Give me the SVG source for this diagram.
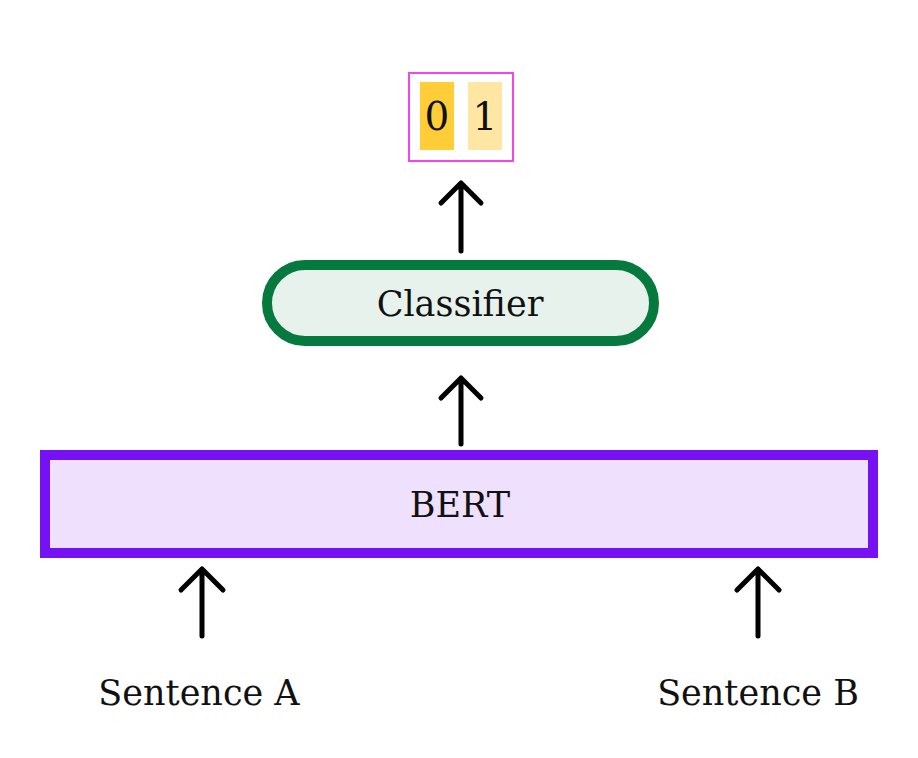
<svg xmlns="http://www.w3.org/2000/svg" width="918" height="758" viewBox="0 0 918 758">
<style>
text{font-family:"DejaVu Serif","Liberation Serif",serif;font-size:35px;fill:#111;text-anchor:middle}
.dig{font-size:39px}
.arr{fill:none;stroke:#000;stroke-width:5;stroke-linecap:round;stroke-linejoin:round}
</style>
<rect width="918" height="758" fill="#fff"/>
<g id="output">
<rect x="409" y="73" width="104" height="88" fill="#fff" stroke="#f544ee" stroke-width="2"/>
<rect x="420" y="82" width="34" height="68" fill="#ffcd38"/>
<rect x="468" y="82" width="34" height="68" fill="#ffe6a2"/>
<text class="dig" x="437" y="130">0</text>
<text class="dig" x="485" y="130">1</text>
</g>
<g id="classifier">
<rect x="267" y="265" width="387" height="76" rx="38" fill="#e7f2ec" stroke="#06793f" stroke-width="10"/>
<text x="460" y="316">Classifier</text>
</g>
<g id="bert">
<rect x="45" y="455" width="828" height="98" fill="#efe0fd" stroke="#7611f3" stroke-width="10"/>
<text x="460" y="517">BERT</text>
</g>
<g id="sentenceA"><text x="199" y="705">Sentence A</text></g>
<g id="sentenceB"><text x="758" y="705">Sentence B</text></g>
<g id="connectors">
<path class="arr" d="M461 251V183M441 203L461 183L481 203"/>
<path class="arr" d="M461 444V378M441 398L461 378L481 398"/>
<path class="arr" d="M202 636V569M181 590L202 569L223 590"/>
<path class="arr" d="M758 636V569M737 590L758 569L779 590"/>
</g>
</svg>
